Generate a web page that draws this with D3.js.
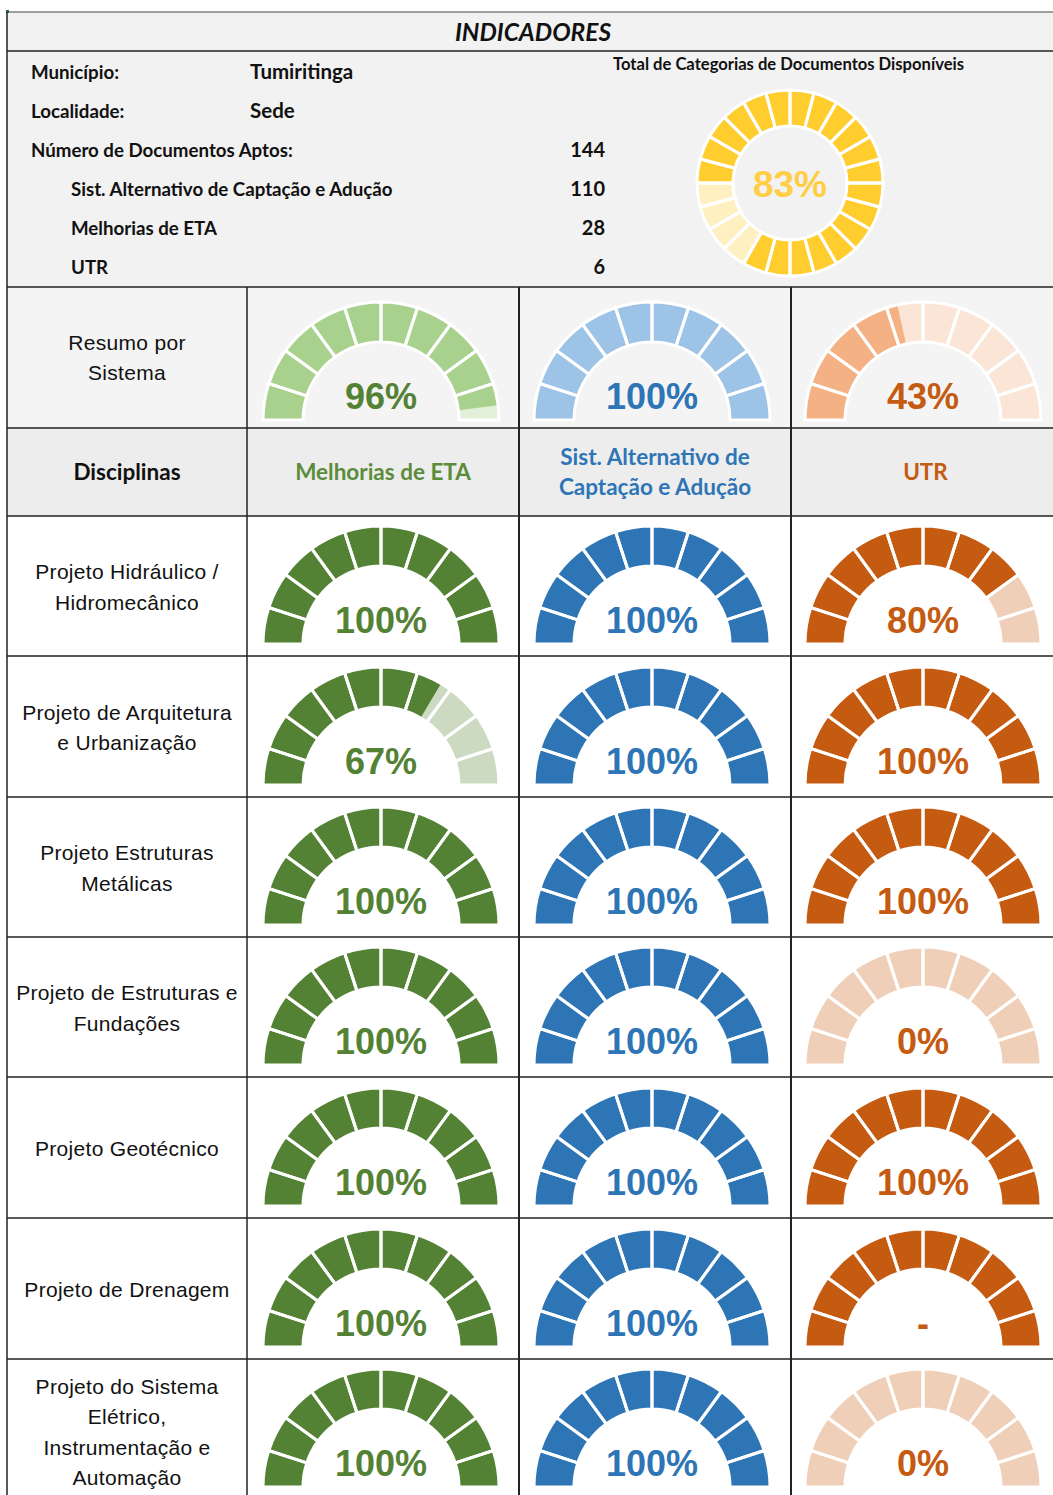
<!DOCTYPE html>
<html>
<head>
<meta charset="utf-8">
<script src="https://cdn.jsdelivr.net/npm/d3@7"></script>
<style>
body { margin: 0; background: #fff; }
</style>
</head>
<body>
<script>
'use strict';

// dados do painel
const municipio = 'Tumiritinga'
const localidade = 'Sede'
const rotulosDocs = ['Número de Documentos Aptos:', 'Sist. Alternativo de Captação e Adução', 'Melhorias de ETA', 'UTR']
const valoresDocs = [144, 110, 28, 6]
const totalCategorias = 83

const sistemas = ['Melhorias de ETA', 'Sist. Alternativo de\nCaptação e Adução', 'UTR']
const resumoSistema = [96, 100, 43]

const disciplinas = [
    'Projeto Hidráulico /\nHidromecânico',
    'Projeto de Arquitetura\ne Urbanização',
    'Projeto Estruturas\nMetálicas',
    'Projeto de Estruturas e\nFundações',
    'Projeto Geotécnico',
    'Projeto de Drenagem',
    'Projeto do Sistema\nElétrico,\nInstrumentação e\nAutomação'
]
const melhoriasETA = [100, 67, 100, 100, 100, 100, 100]
const sistAlternativo = [100, 100, 100, 100, 100, 100, 100]
const utr = [80, 100, 100, 0, 100, null, 0]

const cores = [
    {forte: '#548235', claro: '#CCDAC2', resForte: '#A9D18E', resClaro: '#E2F0D9', texto: '#548235', titulo: '#5B8C3A'},
    {forte: '#2E75B6', claro: '#C5D9EE', resForte: '#9DC3E6', resClaro: '#DEEBF7', texto: '#2E75B6', titulo: '#2E75B6'},
    {forte: '#C55A11', claro: '#F0CFB9', resForte: '#F4B183', resClaro: '#FBE5D6', texto: '#C55A11', titulo: '#C55A11'}
]

const largura = 1053
const altura = 1495
const colunas = [7, 247, 519, 791, 1060]
const linhas = [287, 428, 516, 656, 797, 937, 1077, 1218, 1359, 1500]
const centrosX = [381, 652, 923]

const fonteCalibri = 'Lato, "Open Sans", sans-serif'
const fonteArial = '"Liberation Sans", Arial, sans-serif'

const svg = d3.select('body').append('svg')
    .attr('width', largura)
    .attr('height', altura)
    .style('display', 'block')

// fundos
svg.append('rect').attr('x', colunas[0]).attr('y', 12).attr('width', largura - colunas[0]).attr('height', linhas[0] - 12).attr('fill', '#F2F2F2')
svg.append('rect').attr('x', colunas[0]).attr('y', linhas[0]).attr('width', largura - colunas[0]).attr('height', linhas[1] - linhas[0]).attr('fill', '#F4F4F4')
svg.append('rect').attr('x', colunas[0]).attr('y', linhas[1]).attr('width', largura - colunas[0]).attr('height', linhas[2] - linhas[1]).attr('fill', '#EDEDED')
svg.append('rect').attr('x', 6).attr('y', 10).attr('width', 3).attr('height', 3).attr('fill', '#217346')

// titulo
svg.append('text')
    .attr('x', 533).attr('y', 41)
    .attr('text-anchor', 'middle')
    .style('font', `italic bold 24.5px ${fonteCalibri}`)
    .attr('fill', '#111')
    .text('INDICADORES')

// bloco de informacoes
const info = svg.append('g').style('font', `bold 18.7px ${fonteCalibri}`).attr('fill', '#111')
info.append('text').attr('x', 31).attr('y', 79).text('Município:')
info.append('text').attr('x', 250).attr('y', 79).style('font-size', '20.5px').text(municipio)
info.append('text').attr('x', 31).attr('y', 118).text('Localidade:')
info.append('text').attr('x', 250).attr('y', 118).style('font-size', '20.5px').text(localidade)

const yDocs = d3.scalePoint().domain(rotulosDocs).range([157, 274])
info.selectAll('.rotDoc').data(rotulosDocs).enter().append('text')
    .attr('x', (d, i) => i === 0 ? 31 : 71)
    .attr('y', d => yDocs(d))
    .text(d => d)
info.selectAll('.valDoc').data(valoresDocs).enter().append('text')
    .attr('x', 605)
    .attr('y', (d, i) => yDocs(rotulosDocs[i]))
    .attr('text-anchor', 'end')
    .style('font-size', '20px')
    .text(d => d)

svg.append('text')
    .attr('x', 613).attr('y', 70)
    .style('font', `bold 16.6px ${fonteCalibri}`)
    .attr('fill', '#111')
    .text('Total de Categorias de Documentos Disponíveis')

// rosca total
const escalaRosca = d3.scaleLinear().domain([0, 100]).range([-Math.PI / 2, 3 * Math.PI / 2])
const arcoRosca = d3.arc().innerRadius(57).outerRadius(93)
const rosca = svg.append('g').attr('transform', 'translate(790, 183)')
rosca.append('path')
    .attr('d', arcoRosca({startAngle: escalaRosca(0), endAngle: escalaRosca(100)}))
    .attr('fill', '#FFF0C2')
rosca.append('path')
    .attr('d', arcoRosca({startAngle: escalaRosca(0), endAngle: escalaRosca(totalCategorias)}))
    .attr('fill', '#FFCD2E')
rosca.selectAll('.seg').data(d3.range(24)).enter().append('path')
    .attr('d', i => arcoRosca({startAngle: escalaRosca(i * 100 / 24), endAngle: escalaRosca((i + 1) * 100 / 24)}))
    .attr('fill', 'none')
    .attr('stroke', '#fff')
    .attr('stroke-width', 3)
rosca.append('text')
    .attr('y', 14)
    .attr('text-anchor', 'middle')
    .style('font', `bold 37px ${fonteArial}`)
    .attr('fill', '#FFCE45')
    .text(totalCategorias + '%')

// medidor semicircular
const escalaMedidor = d3.scaleLinear().domain([0, 100]).range([-Math.PI / 2, Math.PI / 2])
const arcoMedidor = d3.arc().innerRadius(78).outerRadius(118)

function medidor(cx, cy, valor, forte, claro, corTexto) {
    const g = svg.append('g').attr('transform', `translate(${cx}, ${cy})`)
    const preenchido = valor === null ? 100 : valor
    g.append('path')
        .attr('d', arcoMedidor({startAngle: escalaMedidor(0), endAngle: escalaMedidor(100)}))
        .attr('fill', claro)
    if (preenchido > 0) {
        g.append('path')
            .attr('d', arcoMedidor({startAngle: escalaMedidor(0), endAngle: escalaMedidor(preenchido)}))
            .attr('fill', forte)
    }
    g.selectAll('.seg').data(d3.range(10)).enter().append('path')
        .attr('d', i => arcoMedidor({startAngle: escalaMedidor(i * 10), endAngle: escalaMedidor(i * 10 + 10)}))
        .attr('fill', 'none')
        .attr('stroke', '#fff')
        .attr('stroke-width', 3)
    g.append('text')
        .attr('y', -11)
        .attr('text-anchor', 'middle')
        .style('font', `bold 36px ${fonteArial}`)
        .attr('fill', corTexto)
        .text(valor === null ? '-' : valor + '%')
}

// texto em varias linhas, centrado
function textoMultilinha(x, yCentro, texto, fonte, cor, passo, espaco) {
    const partes = texto.split('\n')
    const t = svg.append('text')
        .attr('text-anchor', 'middle')
        .style('font', fonte)
        .style('letter-spacing', espaco || 0)
        .attr('fill', cor)
    partes.forEach((p, i) => {
        t.append('tspan')
            .attr('x', x)
            .attr('y', yCentro + (i - (partes.length - 1) / 2) * passo)
            .attr('dy', '0.35em')
            .text(p)
    })
}

// linha resumo por sistema
textoMultilinha(127, (linhas[0] + linhas[1]) / 2, 'Resumo por\nSistema', `21px ${fonteArial}`, '#111', 30, '0.3px')
resumoSistema.forEach((v, i) => {
    medidor(centrosX[i], linhas[1] - 8, v, cores[i].resForte, cores[i].resClaro, cores[i].texto)
})

// cabecalho
textoMultilinha(127, (linhas[1] + linhas[2]) / 2, 'Disciplinas', `bold 22.5px ${fonteCalibri}`, '#111', 30)
sistemas.forEach((s, i) => {
    textoMultilinha((colunas[i + 1] + colunas[i + 2]) / 2, (linhas[1] + linhas[2]) / 2, s,
        `bold 22.5px ${fonteCalibri}`, cores[i].titulo, 30)
})

// linhas por disciplina
const series = [melhoriasETA, sistAlternativo, utr]
disciplinas.forEach((d, r) => {
    const topo = linhas[r + 2]
    const base = linhas[r + 3]
    const yMeio = r === 6 ? 1432 : (topo + base) / 2 + 1
    textoMultilinha(127, yMeio, d, `21px ${fonteArial}`, '#111', 30.5, '0.3px')
    series.forEach((serie, i) => {
        const cy = r === 6 ? 1487 : base - 12
        medidor(centrosX[i], cy, serie[r], cores[i].forte, cores[i].claro, cores[i].texto)
    })
})

// grade
const grade = svg.append('g').attr('stroke', '#222').attr('fill', 'none')
grade.append('line').attr('x1', colunas[0]).attr('x2', largura).attr('y1', 12).attr('y2', 12).attr('stroke', '#444').attr('stroke-width', 1)
grade.append('line').attr('x1', colunas[0]).attr('x2', largura).attr('y1', 51).attr('y2', 51).attr('stroke-width', 1.5)
grade.selectAll('.h').data(linhas.slice(0, 9)).enter().append('line')
    .attr('x1', colunas[0]).attr('x2', largura)
    .attr('y1', d => d).attr('y2', d => d)
    .attr('stroke-width', 1.5)
grade.append('line').attr('x1', colunas[0]).attr('x2', colunas[0]).attr('y1', 12).attr('y2', altura).attr('stroke-width', 1.5)
grade.selectAll('.v').data(colunas.slice(1, 4)).enter().append('line')
    .attr('x1', d => d).attr('x2', d => d)
    .attr('y1', linhas[0]).attr('y2', altura)
    .attr('stroke-width', (d, i) => i === 0 ? 1.5 : 2)
</script>
</body>
</html>
